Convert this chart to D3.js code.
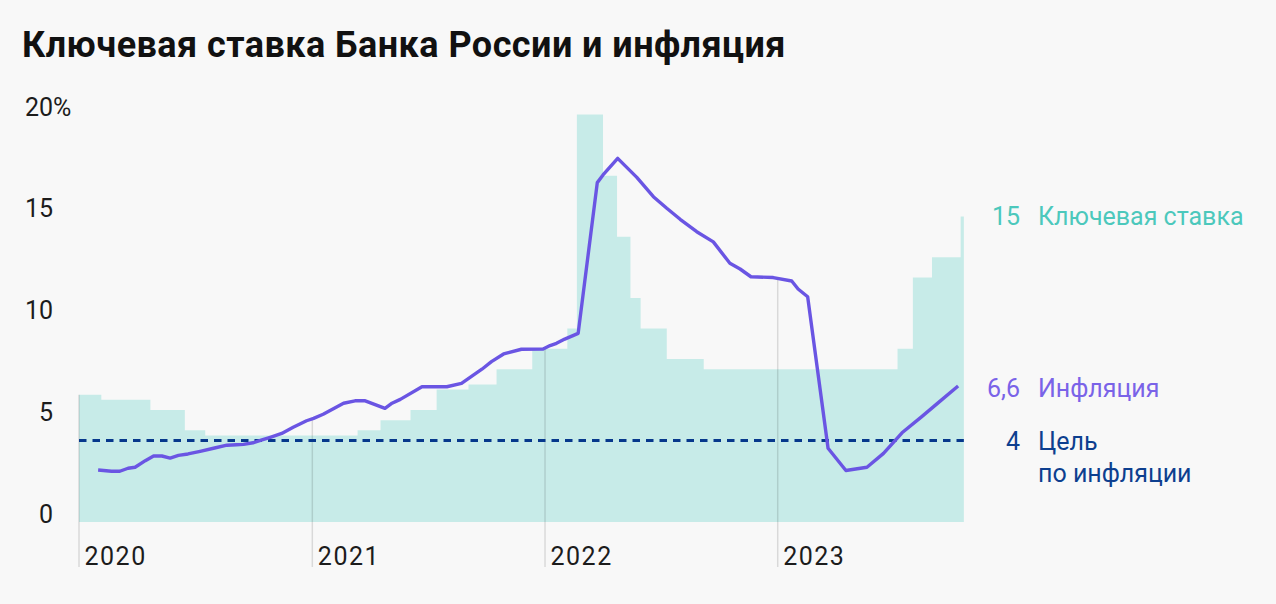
<!DOCTYPE html>
<html><head><meta charset="utf-8">
<script src="https://cdn.jsdelivr.net/npm/d3@7"></script>
<style>
html,body{margin:0;padding:0;background:#f8f8f8;}
svg{display:block;font-family:Roboto,"Noto Sans",sans-serif;}
</style></head><body>
<svg id="chart" width="1276" height="604"></svg>
<script>
// ---------------- data ----------------
const chartTitle = "Ключевая ставка Банка России и инфляция";

// Key rate of the Bank of Russia, %, step changes (last entry = end of series)
const rateDates = ["2020-01-01","2020-02-05","2020-04-22","2020-06-15","2020-07-17",
  "2021-03-13","2021-04-18","2021-06-04","2021-07-15","2021-09-03","2021-10-17","2021-12-12",
  "2022-02-05","2022-02-20","2022-04-02","2022-04-24","2022-05-15","2022-05-31","2022-07-11","2022-09-07",
  "2023-07-08","2023-08-01","2023-08-31","2023-10-15","2023-10-20"];
const rateValues = [6.25,6,5.5,4.5,4.25,
  4.5,5,5.5,6.5,6.75,7.5,8.5,
  9.5,20,17,14,11,9.5,8,7.5,
  8.5,12,13,15,15];

// Annual inflation, %
const inflationDates = ["2020-01-31","2020-02-21","2020-03-05","2020-03-18","2020-03-29","2020-04-14","2020-04-27",
  "2020-05-10","2020-05-23","2020-06-05","2020-06-20","2020-07-09","2020-07-30","2020-08-20","2020-09-04",
  "2020-09-15","2020-09-30","2020-10-14","2020-10-27","2020-11-14","2020-12-02","2020-12-23",
  "2021-01-03","2021-01-18","2021-02-19","2021-03-09","2021-03-25","2021-04-25","2021-05-06","2021-05-19",
  "2021-06-22","2021-07-31","2021-08-23","2021-09-24","2021-10-09","2021-10-28","2021-11-25","2021-12-29",
  "2022-01-09","2022-01-19","2022-02-01","2022-02-22","2022-03-24","2022-04-02","2022-04-25","2022-05-25",
  "2022-06-20","2022-07-11","2022-08-01","2022-08-27","2022-09-22","2022-10-18","2022-11-03","2022-11-20",
  "2022-12-25","2023-01-23","2023-02-02","2023-02-17","2023-03-21","2023-04-18","2023-05-21","2023-06-16",
  "2023-07-15","2023-08-15","2023-09-10","2023-10-11"];
const inflationValues = [2.55,2.49,2.49,2.64,2.69,3.01,3.24,
  3.24,3.14,3.27,3.34,3.47,3.62,3.77,3.79,
  3.81,3.89,4.03,4.16,4.35,4.65,4.97,
  5.09,5.29,5.83,5.95,5.95,5.58,5.83,6.02,
  6.64,6.64,6.81,7.50,7.87,8.25,8.48,8.49,
  8.66,8.77,8.98,9.26,16.66,17.04,17.85,16.92,
  15.97,15.40,14.86,14.25,13.75,12.70,12.42,12.04,
  12.00,11.83,11.44,11.06,3.62,2.53,2.69,3.37,
  4.38,5.17,5.86,6.68];

const targetValue = 4;                       // inflation target, %
const yTickValues = [0,5,10,15,20];
const xTickDates = ["2020-01-01","2021-01-01","2022-01-01","2023-01-01"];
const labelValues = [15, 6.6, 4];
const labelNames = [["Ключевая ставка"],["Инфляция"],["Цель","по инфляции"]];

// ---------------- chart ----------------
const parse = d3.utcParse("%Y-%m-%d");
const rate = rateDates.map((d,i)=>({date:parse(d), value:rateValues[i]}));
const infl = inflationDates.map((d,i)=>({date:parse(d), value:inflationValues[i]}));

const svg = d3.select("#chart");
svg.append("rect").attr("width",1276).attr("height",604).attr("fill","#f8f8f8");

const x = d3.scaleUtc().domain([parse("2020-01-01"), parse("2023-01-01")]).range([79, 777.7]);
const y = d3.scaleLinear().domain([0,20]).range([522, 114.6]);

const C = {
  area:"#c7ebe8", line:"#6a55e3", target:"#06388c", grid:"rgba(0,0,0,0.12)",
  text:"#1c1c1c", rateLbl:"#4cc8bc", inflLbl:"#7a63e8", targetLbl:"#0d3f8f"
};

// title
svg.append("text").attr("x",22).attr("y",57)
  .attr("font-size",36).attr("font-weight",700).attr("letter-spacing",0.45).attr("fill","#111")
  .text(chartTitle);

// key rate area
svg.append("path").datum(rate)
  .attr("fill",C.area)
  .attr("d", d3.area().curve(d3.curveStepAfter)
    .x(d=>x(d.date)).y0(y(0)).y1(d=>y(d.value)));

// year gridlines: from top of data down to below labels
const rateAt = dt => { const i = d3.bisector(d=>d.date).right(rate, dt) - 1; return i>=0 ? rate[i].value : 0; };
const inflAt = dt => {
  const i = d3.bisector(d=>d.date).right(infl, dt);
  if (i<=0 || i>=infl.length) return 0;
  const a = infl[i-1], b = infl[i];
  return a.value + (b.value-a.value)*((dt-a.date)/(b.date-a.date));
};
const yearDates = xTickDates.map(parse);
svg.append("g").selectAll("line").data(yearDates).join("line")
  .attr("x1",d=>x(d)).attr("x2",d=>x(d))
  .attr("y1",d=>y(Math.max(rateAt(d), inflAt(d))))
  .attr("y2",567)
  .attr("stroke",C.grid).attr("stroke-width",1.5);

// target dashed line
const endDate = rate[rate.length-1].date;
svg.append("line")
  .attr("x1",x(rate[0].date)).attr("x2",x(endDate))
  .attr("y1",y(targetValue)).attr("y2",y(targetValue))
  .attr("stroke",C.target).attr("stroke-width",3.2).attr("stroke-dasharray","7.5,6");

// inflation line
svg.append("path").datum(infl)
  .attr("fill","none").attr("stroke",C.line).attr("stroke-width",3.4)
  .attr("stroke-linejoin","round")
  .attr("d", d3.line().x(d=>x(d.date)).y(d=>y(d.value)));

// y axis
const yAxis = svg.append("g").attr("transform","translate(53,0)")
  .call(d3.axisLeft(y).tickValues(yTickValues).tickSize(0).tickPadding(0).tickFormat(d=>d));
yAxis.select(".domain").remove();
yAxis.selectAll("text").attr("dy",0).attr("y",0.5).attr("font-size",25)
  .attr("font-family","Roboto, sans-serif").attr("fill",C.text);
yAxis.selectAll(".tick").filter(d=>d===20).select("text").append("tspan").text("%");
yAxis.selectAll(".tick").filter(d=>d===20).select("text").each(function(){
  const pct = d3.select(this).select("tspan").node().getComputedTextLength();
  d3.select(this).attr("dx", pct);
});

// x axis
const xAxis = svg.append("g").attr("transform","translate(0,565)")
  .call(d3.axisBottom(x).tickValues(yearDates).tickSize(0).tickPadding(0).tickFormat(d3.utcFormat("%Y")));
xAxis.select(".domain").remove();
xAxis.selectAll("text").attr("dy",0).attr("y",0).attr("x",5).attr("text-anchor","start")
  .attr("font-size",25).attr("letter-spacing",1.5).attr("font-family","Roboto, sans-serif").attr("fill",C.text);

// right-side labels
const ruLocale = d3.formatLocale({decimal:",", thousands:"\u00a0", grouping:[3], currency:["",""]});
const fmt = ruLocale.format("~g");
const labelColors = [C.rateLbl, C.inflLbl, C.targetLbl];
const lab = svg.append("g").selectAll("g").data(labelValues).join("g")
  .attr("transform",d=>`translate(0,${y(d)+9})`)
  .attr("font-size",25).attr("fill",(d,i)=>labelColors[i]);
lab.append("text").attr("x",1020).attr("text-anchor","end").text(d=>fmt(d));
lab.each(function(d,i){
  d3.select(this).selectAll("text.name").data(labelNames[i]).join("text")
    .attr("class","name").attr("x",1038).attr("y",(t,j)=>j*32).text(t=>t);
});
</script>
</body></html>
